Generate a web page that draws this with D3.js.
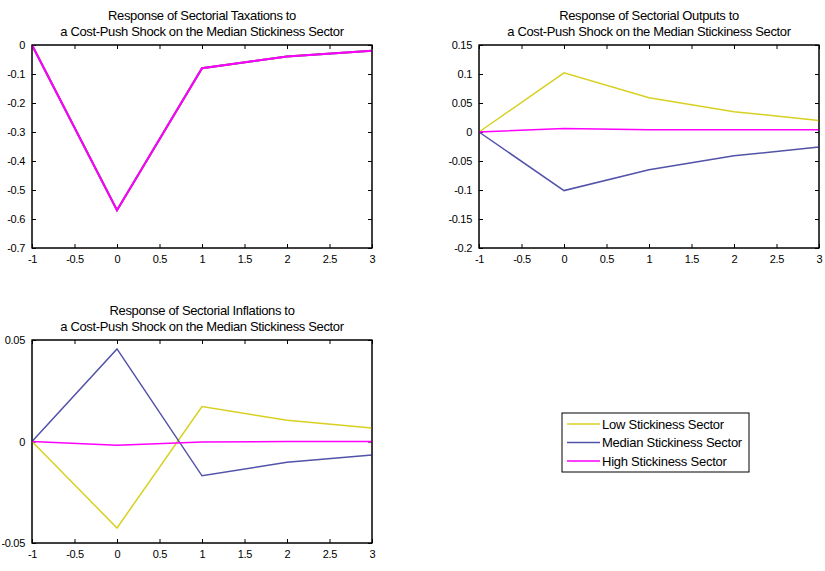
<!DOCTYPE html>
<html><head><meta charset="utf-8">
<script src="https://cdn.jsdelivr.net/npm/d3@7"></script>
<style>
body{margin:0;background:#fff;}
text{font-family:"Liberation Sans",Arial,sans-serif;fill:#000;}
</style></head><body>
<svg id="c" width="825" height="571"></svg>
<script>
const periods = [-1, 0, 1, 2, 3];
const seriesNames = ["Low Stickiness Sector", "Median Stickiness Sector", "High Stickiness Sector"];
const seriesColors = ["#d8d020", "#5252aa", "#ff00ff"];

// Panel 1: Sectorial Taxations
const taxLow = [0, -0.57, -0.08, -0.04, -0.02];
const taxMedian = [0, -0.57, -0.08, -0.04, -0.02];
const taxHigh = [0, -0.57, -0.08, -0.04, -0.02];
// Panel 2: Sectorial Outputs
const outLow = [0, 0.102, 0.059, 0.035, 0.020];
const outMedian = [0, -0.101, -0.065, -0.041, -0.026];
const outHigh = [0, 0.006, 0.004, 0.004, 0.004];
// Panel 3: Sectorial Inflations
const infLow = [0, -0.0426, 0.0172, 0.0105, 0.0067];
const infMedian = [0, 0.0456, -0.0169, -0.0102, -0.0066];
const infHigh = [0, -0.0018, -0.0003, 0, 0];

const xTicks = [-1, -0.5, 0, 0.5, 1, 1.5, 2, 2.5, 3];
const yTicksTax = [0, -0.1, -0.2, -0.3, -0.4, -0.5, -0.6, -0.7];
const yTicksOut = [0.15, 0.1, 0.05, 0, -0.05, -0.1, -0.15, -0.2];
const yTicksInf = [0.05, 0, -0.05];

const titleLine1 = ["Response of Sectorial Taxations to", "Response of Sectorial Outputs to", "Response of Sectorial Inflations to"];
const titleLine2 = "a Cost-Push Shock on the Median Stickiness Sector";

const svg = d3.select("#c");

const panels = [
  {box:[32,45,372,248], ydom:[-0.7,0], yt:yTicksTax, data:[taxLow,taxMedian,taxHigh], title:titleLine1[0]},
  {box:[479,45,819,248], ydom:[-0.2,0.15], yt:yTicksOut, data:[outLow,outMedian,outHigh], title:titleLine1[1]},
  {box:[32,340,372,543], ydom:[-0.05,0.05], yt:yTicksInf, data:[infLow,infMedian,infHigh], title:titleLine1[2]}
];

const fmt = v => String(+v.toFixed(4));

panels.forEach(p => {
  const [x0,y0,x1,y1] = p.box;
  const x = d3.scaleLinear().domain([-1,3]).range([x0,x1]);
  const y = d3.scaleLinear().domain(p.ydom).range([y1,y0]);
  const g = svg.append("g");
  g.append("rect").attr("x",x0).attr("y",y0).attr("width",x1-x0).attr("height",y1-y0)
    .attr("fill","#fff").attr("stroke","#000").attr("stroke-width",1);
  const ax = g.append("g").attr("transform",`translate(0,${y1})`)
    .call(d3.axisBottom(x).tickValues(xTicks).tickSize(-4).tickPadding(7).tickFormat(fmt));
  const axT = g.append("g").attr("transform",`translate(0,${y0})`)
    .call(d3.axisTop(x).tickValues(xTicks).tickSize(-4).tickFormat(""));
  const ay = g.append("g").attr("transform",`translate(${x0},0)`)
    .call(d3.axisLeft(y).tickValues(p.yt).tickSize(-4).tickPadding(7).tickFormat(fmt));
  const ayR = g.append("g").attr("transform",`translate(${x1},0)`)
    .call(d3.axisRight(y).tickValues(p.yt).tickSize(-4).tickFormat(""));
  [ax,axT,ay,ayR].forEach(a => {
    a.select(".domain").remove();
    a.selectAll("line").attr("stroke","#000");
    a.selectAll("text").attr("font-size","11px").attr("letter-spacing","-0.3")
      .attr("font-family","Liberation Sans, Arial, sans-serif").attr("fill","#000");
  });
  const line = d3.line().x((d,i)=>x(periods[i])).y(d=>y(d));
  p.data.forEach((vals,si) => {
    g.append("path").datum(vals).attr("d",line).attr("fill","none")
      .attr("stroke",seriesColors[si]).attr("stroke-width", p===panels[0] ? 2 : 1.5);
  });
  g.append("rect").attr("x",x0).attr("y",y0).attr("width",x1-x0).attr("height",y1-y0)
    .attr("fill","none").attr("stroke","#000").attr("stroke-width",1);
  const cx = (x0+x1)/2;
  g.append("text").attr("x",cx).attr("y",y0-25).attr("text-anchor","middle").attr("font-size","13px")
    .attr("letter-spacing","-0.35").text(p.title);
  g.append("text").attr("x",cx).attr("y",y0-9).attr("text-anchor","middle").attr("font-size","13px")
    .attr("letter-spacing","-0.35").text(titleLine2);
});

const lg = svg.append("g");
lg.append("rect").attr("x",562).attr("y",413).attr("width",187).attr("height",59)
  .attr("fill","#fff").attr("stroke","#000").attr("stroke-width",1);
seriesNames.forEach((n,i) => {
  const yy = 424 + i*18.5;
  lg.append("line").attr("x1",567).attr("x2",600).attr("y1",yy).attr("y2",yy)
    .attr("stroke",seriesColors[i]).attr("stroke-width",1.5);
  lg.append("text").attr("x",602).attr("y",yy+4.5).attr("font-size","13px")
    .attr("letter-spacing","-0.25").text(n);
});
</script>
</body></html>
